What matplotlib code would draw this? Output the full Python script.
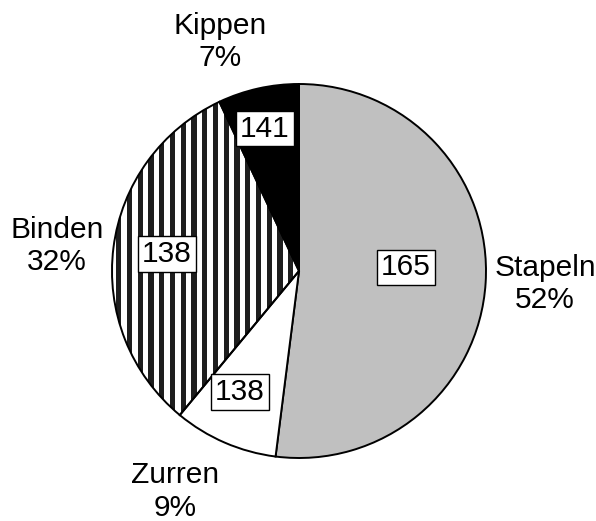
import matplotlib.pyplot as plt
from matplotlib.patches import Rectangle
import numpy as np

plt.rcParams['font.family'] = ['Liberation Sans', 'DejaVu Sans']

taetigkeiten = ["Stapeln", "Zurren", "Binden", "Kippen"]
anteile = [52, 9, 32, 7]          # Anteil in %
mittelwerte = [165, 138, 138, 141]  # Werte in den Kästchen

farben = ["#c0c0c0", "white", "none", "black"]

fig = plt.figure(figsize=(5.96, 5.21), dpi=100)
ax = fig.add_axes([112 / 596, 63 / 521, 374 / 596, 374 / 521])

wedges, _ = ax.pie(anteile, startangle=90, counterclock=False, colors=farben,
                   wedgeprops=dict(edgecolor="black", linewidth=1.4))
ax.set_xlim(-1, 1)
ax.set_ylim(-1, 1)

# senkrechte Streifen für "Binden"
streifen_abstand = 0.0575
streifen_breite = 0.0285
for x0 in np.arange(-0.921 - 2 * streifen_abstand, 0.1, streifen_abstand):
    r = Rectangle((x0, -1.0), streifen_breite, 2.0, facecolor="#1e1e1e",
                  edgecolor="none", zorder=0.5)
    ax.add_patch(r)
    r.set_clip_path(wedges[2])

# Beschriftung außen: Name + Anteil
name_pos = [(1.316, -0.07), (-0.663, -1.18), (-1.294, 0.135), (-0.422, 1.225)]
for name, anteil, (x, y) in zip(taetigkeiten, anteile, name_pos):
    ax.text(x, y, f"{name}\n{anteil}%", ha="center", va="center",
            fontsize=21.5, linespacing=1.2)

# Kästchen mit den Werten
wert_pos = [(0.572, 0.019), (-0.316, -0.647), (-0.706, 0.091), (-0.182, 0.762)]
for wert, (x, y) in zip(mittelwerte, wert_pos):
    ax.text(x, y, str(wert), ha="center", va="center", fontsize=21.5, zorder=5,
            bbox=dict(boxstyle="square,pad=0.13", facecolor="white",
                      edgecolor="black", linewidth=1.0))

fig.savefig("out.png", dpi=100)
